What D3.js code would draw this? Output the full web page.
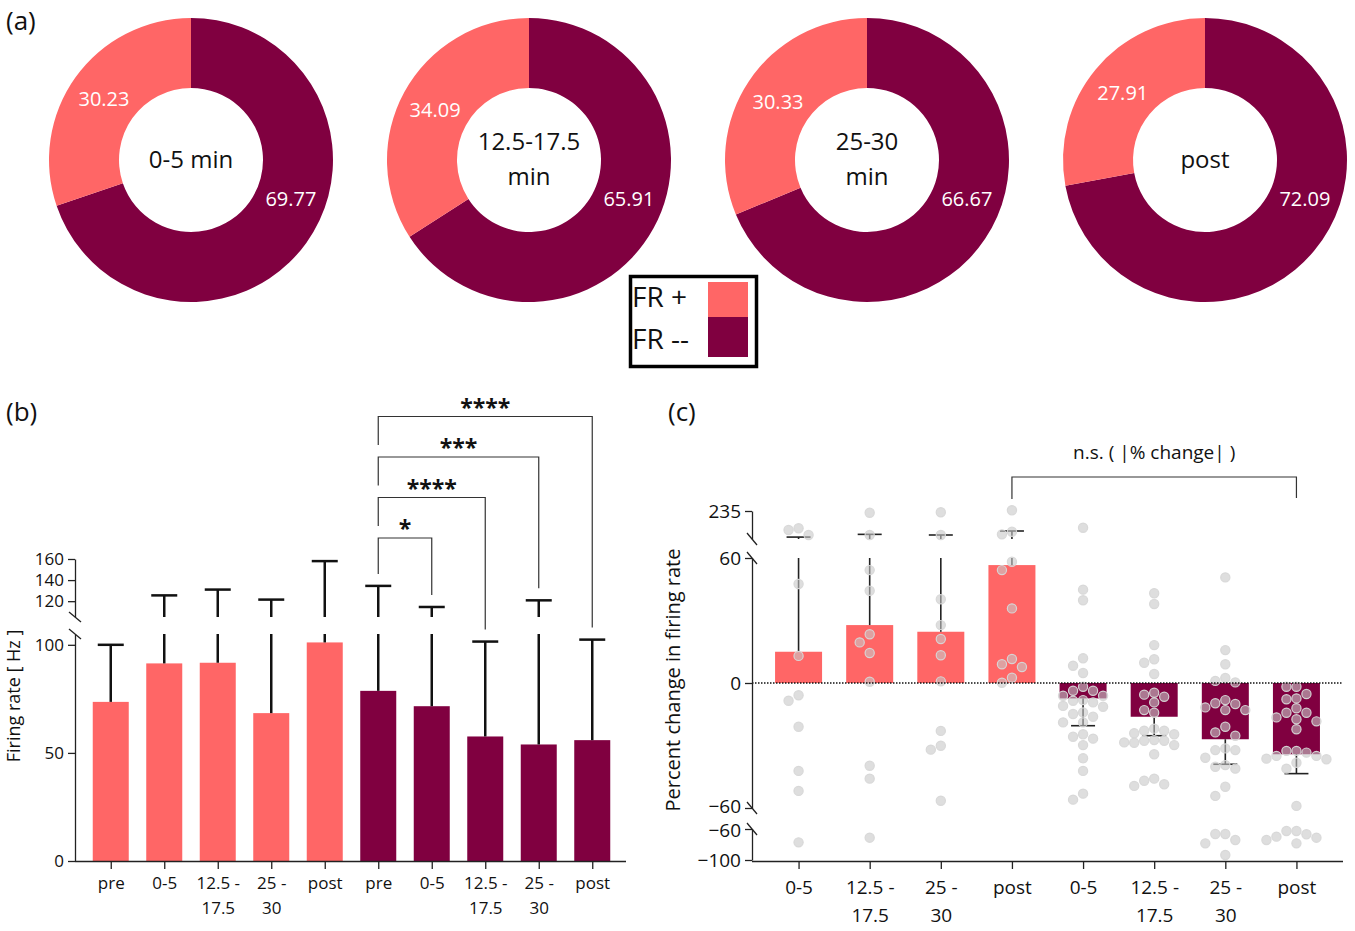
<!doctype html>
<html lang="en">
<head>
<meta charset="utf-8">
<title>Firing rate figure</title>
<script src="https://d3js.org/d3.v7.min.js"></script>
<style>
body { margin: 0; background: #fff; }
svg { font-family: "Open Sans", sans-serif; }
.axis path, .axis line { stroke: #222; stroke-width: 1.3; }
.axis text { font-family: "Open Sans", sans-serif; fill: #111; }
</style>
</head>
<body>
<svg width="1355" height="931"></svg>
<script>
var pink = '#ff6666', maroon = '#800040';

// (a) donut data
var donutTitles = [['0-5 min'], ['12.5-17.5', 'min'], ['25-30', 'min'], ['post']];
var frPlus = [30.23, 34.09, 30.33, 27.91];
var frMinus = [69.77, 65.91, 66.67, 72.09];

// (b) firing rate
var bGroups = ['pre', '0-5', '12.5 -|17.5', '25 -|30', 'post'];
var bPlusMean = [73.6, 91.4, 91.7, 68.4, 101.1];
var bPlusErr = [100, 125.5, 131, 121.5, 158];
var bMinusMean = [78.7, 71.6, 57.6, 53.9, 55.9];
var bMinusErr = [134.5, 114.5, 101.5, 120.8, 102.4];
var bSig = [[5, 6, '*'], [5, 7, '****'], [5, 8, '***'], [5, 9, '****']];

// (c) percent change
var cGroups = ['0-5', '12.5 -|17.5', '25 -|30', 'post'];
var cPlusMean = [15.0, 27.8, 24.6, 56.6];
var cPlusErr = [72, 89, 85, 110];
var cMinusMean = [-7.4, -16.2, -27.0, -34.2];
var cMinusErr = [-20.5, -25.3, -39.0, -43.5];
var cPlusDots = [
  [127, 85, 116, 47.5, 13, -8.5, -5.9, -21, -42.2, -51.8, -77.2],
  [224, 85, 54.2, 44.3, 23.4, 19.5, 14.4, 0.6, -39.7, -45.9, -71.2],
  [227, 85, 40.2, 27.8, 21.1, 13.3, 0.8, -23, -30.1, -32, -56.5],
  [240, 89, 105, 58.2, 54.2, 35.8, 11.5, 7.7, 9, 2.5, 0.1]
];
var cMinusDots = [
  [130.6, 44.8, 39.7, 11.9, 8.3, 4.8, -6.1, -3.7, -3.7, -1.8, -6.1, -8.5, -8.2, -9.3, -11.4, -11,
   -14.9, -14.1, -16.2, -18.9, -18.9, -24.6, -25.8, -26.7, -29.8, -36.1, -42.2, -53.1, -56],
  [43.1, 37.9, 18.2, 9.7, 11.4, 4.3, -4.7, -5.6, -6.6, -9.3, -14.3, -13, -22.9, -24.6, -21.9, -22.9,
   -24.1, -28.7, -27.7, -29.8, -28.5, -27.7, -27.4, -34.2, -45.9, -46.9, -48.6, -49.4],
  [50.7, 15.8, 9, 0.3, 1, 2.4, -9.7, -11.7, -13, -13, -8.2, -10.1, -21, -23.7, -25.3, -32.2, -32.2,
   -31.4, -35.9, -40.2, -41.1, -39.4, -49.8, -54.2, -66.5, -66.5, -74.2, -78.5, -93.5],
  [-5.3, -1.8, -1.8, -7.4, -7.8, -12.1, -14.3, -14.3, -17.4, -16.5, -18.4, -22.2, -32.6, -32.6, -33.4,
   -35, -36.3, -36.6, -35, -41.1, -38.3, -59, -62.6, -69.9, -78.5, -71.2, -62.6, -74.2, -66.8]
];

var svg = d3.select('svg');

function panelLabel(x, y, t) {
  svg.append('text').attr('x', x).attr('y', y).attr('font-size', 26).attr('fill', '#111').text(t);
}
panelLabel(6, 30, '(a)');
panelLabel(6, 421, '(b)');
panelLabel(668, 421, '(c)');

// ---------- (a) donuts ----------
var rIn = 72, rOut = 142;
var arc = d3.arc().innerRadius(rIn).outerRadius(rOut);
var pie = d3.pie().sort(null).value(function(d){ return d.v; });
var dx = d3.scalePoint().domain(d3.range(4)).range([191, 1205]);

frPlus.forEach(function(p, i){
  var g = svg.append('g').attr('transform', 'translate(' + dx(i) + ',160)');
  var slices = pie([{v: frMinus[i], c: maroon}, {v: p, c: pink}]);
  g.selectAll('path').data(slices).enter().append('path')
    .attr('d', arc).attr('fill', function(d){ return d.data.c; });
  // labels
  var pc = arc.centroid(slices[1]);
  g.append('text').attr('x', pc[0]).attr('y', pc[1] + 1).attr('text-anchor', 'middle')
    .attr('dominant-baseline', 'central').attr('fill', '#fff').attr('font-size', 20).text(p.toFixed(2));
  var a = 111 * Math.PI / 180, rm = (rIn + rOut) / 2;
  g.append('text').attr('x', rm * Math.sin(a)).attr('y', -rm * Math.cos(a)).attr('text-anchor', 'middle')
    .attr('dominant-baseline', 'central').attr('fill', '#fff').attr('font-size', 20).text(frMinus[i].toFixed(2));
  var lines = donutTitles[i];
  lines.forEach(function(t, k){
    g.append('text').attr('x', 0).attr('y', (k - (lines.length - 1) / 2) * 35 - 2)
      .attr('text-anchor', 'middle').attr('dominant-baseline', 'central')
      .attr('font-size', 24).attr('fill', '#111').text(t);
  });
});

// legend
var lg = svg.append('g');
lg.append('rect').attr('x', 630.5).attr('y', 276.5).attr('width', 126).attr('height', 90)
  .attr('fill', '#fff').attr('stroke', '#000').attr('stroke-width', 3.5);
lg.append('rect').attr('x', 708).attr('y', 282).attr('width', 40).attr('height', 35).attr('fill', pink);
lg.append('rect').attr('x', 708).attr('y', 317).attr('width', 40).attr('height', 40).attr('fill', maroon);
lg.append('text').attr('x', 632).attr('y', 307).attr('font-size', 28).attr('fill', '#111').text('FR +');
lg.append('text').attr('x', 632).attr('y', 349).attr('font-size', 28).attr('fill', '#111').text('FR --');

// ---------- (b) ----------
var bAxisX = 75, bBase = 861;
var bx = d3.scalePoint().domain(d3.range(10)).range([84, 619]).padding(0.5);
var byLow = d3.scaleLinear().domain([0, 105]).range([bBase, 634]);
var byHigh = d3.scaleLinear().domain([105, 160]).range([617, 559]);
function by(v){ return v > 105 ? byHigh(v) : byLow(v); }

var bBars = bPlusMean.map(function(m, i){ return {i: i, mean: m, err: bPlusErr[i], c: pink}; })
  .concat(bMinusMean.map(function(m, i){ return {i: i + 5, mean: m, err: bMinusErr[i], c: maroon}; }));
var bw = 36;

var gb = svg.append('g');
gb.selectAll('rect.bar').data(bBars).enter().append('rect')
  .attr('x', function(d){ return bx(d.i) - bw / 2; })
  .attr('y', function(d){ return by(d.mean); })
  .attr('width', bw)
  .attr('height', function(d){ return bBase - by(d.mean); })
  .attr('fill', function(d){ return d.c; });

bBars.forEach(function(d){
  var x = bx(d.i), segs;
  if (d.err > 105) segs = [[by(d.mean), byLow(105)], [byHigh(105), byHigh(d.err)]];
  else segs = [[by(d.mean), by(d.err)]];
  segs.forEach(function(s){
    gb.append('line').attr('x1', x).attr('x2', x).attr('y1', s[0]).attr('y2', s[1])
      .attr('stroke', '#111').attr('stroke-width', 2.5);
  });
  gb.append('line').attr('x1', x - 13).attr('x2', x + 13).attr('y1', by(d.err)).attr('y2', by(d.err))
    .attr('stroke', '#111').attr('stroke-width', 2.5);
});

// axes (b)
gb.append('g').attr('class', 'axis').attr('transform', 'translate(' + bAxisX + ',0)')
  .call(d3.axisLeft(byLow).tickValues([0, 50, 100]).tickSize(7).tickSizeOuter(0));
gb.append('g').attr('class', 'axis').attr('transform', 'translate(' + bAxisX + ',0)')
  .call(d3.axisLeft(byHigh).tickValues([120, 140, 160]).tickSize(7).tickSizeOuter(0));
gb.selectAll('.axis text').attr('font-size', 17).attr('dx', '-1');
[byLow(105), byHigh(105)].forEach(function(y){
  gb.append('line').attr('x1', bAxisX - 6).attr('x2', bAxisX + 6).attr('y1', y - 5).attr('y2', y + 5)
    .attr('stroke', '#222').attr('stroke-width', 1.3);
});
var axB = gb.append('g').attr('class', 'axis').attr('transform', 'translate(0,' + bBase + ')')
  .call(d3.axisBottom(bx).tickSize(8).tickSizeOuter(0).tickFormat(function(i){ return bGroups[i % 5]; }));
axB.select('.domain').attr('d', 'M' + bAxisX + ',0.5H626');
axB.selectAll('text').attr('font-size', 17).attr('y', 28).attr('dy', 0).each(function(){
  var el = d3.select(this), parts = el.text().split('|');
  el.text(null);
  parts.forEach(function(p, k){
    el.append('tspan').attr('x', 0).attr('dy', k ? 25 : 0).text(p);
  });
});
gb.append('text').attr('transform', 'translate(20,696) rotate(-90)').attr('text-anchor', 'middle')
  .attr('font-size', 18).attr('fill', '#111').text('Firing rate [ Hz ]');

// significance brackets (b)
var bTop0 = 538, bStep = 40.5;
bSig.forEach(function(s, k){
  var top = bTop0 - k * bStep;
  var xl = bx(s[0]), xr = bx(s[1]);
  var leftBottom = k === 0 ? by(bMinusErr[0]) - 12 : bTop0 - (k - 1) * bStep - 12;
  var rightBottom = by(bMinusErr[s[1] - 5]) - 12;
  gb.append('path').attr('d', 'M' + xl + ',' + leftBottom + 'V' + top + 'H' + xr + 'V' + rightBottom)
    .attr('fill', 'none').attr('stroke', '#333').attr('stroke-width', 1.2);
  gb.append('text').attr('x', (xl + xr) / 2).attr('y', top - 1).attr('text-anchor', 'middle')
    .attr('font-size', 23).attr('font-weight', 'bold').attr('fill', '#111').text(s[2]);
});

// ---------- (c) ----------
var cAxisX = 752, cBase = 861;
var cx = d3.scalePoint().domain(d3.range(8)).range([763, 1332]).padding(0.5);
var cyTop = d3.scaleLinear().domain([60, 235]).range([539, 511]);
var cyMid = d3.scaleLinear().domain([-60, 60]).range([808, 558]);
var cyBot = d3.scaleLinear().domain([-100, -60]).range([860, 829]);
function cy(v){ return v > 60 ? cyTop(v) : (v < -60 ? cyBot(v) : cyMid(v)); }

var gc = svg.append('g');
var cBars = cPlusMean.map(function(m, i){ return {i: i, mean: m, err: cPlusErr[i], c: pink, dots: cPlusDots[i]}; })
  .concat(cMinusMean.map(function(m, i){ return {i: i + 4, mean: m, err: cMinusErr[i], c: maroon, dots: cMinusDots[i]}; }));
var cw = 47;

gc.selectAll('rect.bar').data(cBars).enter().append('rect')
  .attr('x', function(d){ return cx(d.i) - cw / 2; })
  .attr('y', function(d){ return Math.min(cy(d.mean), cy(0)); })
  .attr('width', cw)
  .attr('height', function(d){ return Math.abs(cy(d.mean) - cy(0)); })
  .attr('fill', function(d){ return d.c; });

// beeswarm layout of the points
function swarm(vals, x0, d){
  var pts = vals.map(function(v){ return {v: v, y: cy(v)}; });
  var order = pts.slice().sort(function(a, b){ return a.y - b.y; });
  var placed = [];
  order.forEach(function(p){
    for (var k = 0; k < 30; k++) {
      var off = k === 0 ? 0 : (k % 2 ? -Math.ceil(k / 2) : Math.ceil(k / 2)) * d;
      var ok = placed.every(function(q){ return Math.hypot(q.x - (x0 + off), q.y - p.y) >= d - 0.5; });
      if (ok) { p.x = x0 + off; placed.push(p); break; }
    }
  });
  return pts;
}

cBars.forEach(function(d){
  var x = cx(d.i), segs = [];
  if (d.err > 60) segs = [[cy(d.mean), cyMid(60)], [cyTop(60), cyTop(d.err)]];
  else if (d.err < -60) segs = [[cy(d.mean), cyMid(-60)], [cyBot(-60), cyBot(d.err)]];
  else segs = [[cy(d.mean), cy(d.err)]];
  segs.forEach(function(s){
    gc.append('line').attr('x1', x).attr('x2', x).attr('y1', s[0]).attr('y2', s[1])
      .attr('stroke', '#222').attr('stroke-width', 1.6);
  });
  gc.append('line').attr('x1', x - 12).attr('x2', x + 12).attr('y1', cy(d.err)).attr('y2', cy(d.err))
    .attr('stroke', '#222').attr('stroke-width', 1.6);
});

cBars.forEach(function(d){
  gc.selectAll(null).data(swarm(d.dots, cx(d.i), 10)).enter().append('circle')
    .attr('cx', function(p){ return p.x; }).attr('cy', function(p){ return p.y; }).attr('r', 4.6)
    .attr('fill', 'rgba(200,200,200,0.6)').attr('stroke', 'rgba(215,215,215,0.95)').attr('stroke-width', 1.2);
});

// zero line
gc.append('line').attr('x1', cAxisX).attr('x2', 1343).attr('y1', cy(0)).attr('y2', cy(0))
  .attr('stroke', '#111').attr('stroke-width', 1.6).attr('stroke-dasharray', '1.5,1.5');

// axes (c)
[[cyTop, [235]], [cyMid, [60, 0, -60]], [cyBot, [-60, -100]]].forEach(function(a, k){
  gc.append('g').attr('class', 'axis cy seg' + k).attr('transform', 'translate(' + cAxisX + ',0)')
    .call(d3.axisLeft(a[0]).tickValues(a[1]).tickSize(7).tickSizeOuter(0).tickFormat(d3.format('d')));
});
gc.selectAll('.cy text').attr('font-size', 19).attr('dx', '-1');
gc.selectAll('.seg1 .tick:last-of-type text').attr('dy', '0.22em');
gc.selectAll('.seg2 .tick:first-of-type text').attr('dy', '0.42em');
[cyTop(60), cyMid(60), cyMid(-60), cyBot(-60)].forEach(function(y){
  gc.append('line').attr('x1', cAxisX - 5).attr('x2', cAxisX + 5).attr('y1', y - 6).attr('y2', y + 6)
    .attr('stroke', '#222').attr('stroke-width', 1.3);
});
var axC = gc.append('g').attr('class', 'axis').attr('transform', 'translate(0,' + cBase + ')')
  .call(d3.axisBottom(cx).tickSize(8).tickSizeOuter(0).tickFormat(function(i){ return cGroups[i % 4]; }));
axC.select('.domain').attr('d', 'M' + cAxisX + ',0.5H1343');
axC.selectAll('text').attr('font-size', 19).attr('y', 33).attr('dy', 0).each(function(){
  var el = d3.select(this), parts = el.text().split('|');
  el.text(null);
  parts.forEach(function(p, k){
    el.append('tspan').attr('x', 0).attr('dy', k ? 28 : 0).text(p);
  });
});
gc.append('text').attr('transform', 'translate(680,680) rotate(-90)').attr('text-anchor', 'middle')
  .attr('font-size', 20).attr('fill', '#111').text('Percent change in firing rate');

// n.s. bracket
var nsL = cx(3), nsR = cx(7);
gc.append('path').attr('d', 'M' + nsL + ',499V477H' + nsR + 'V498')
  .attr('fill', 'none').attr('stroke', '#333').attr('stroke-width', 1.2);
gc.append('text').attr('x', (nsL + nsR) / 2).attr('y', 459).attr('text-anchor', 'middle')
  .attr('font-size', 19).attr('fill', '#111').text('n.s. ( |% change| )');
</script>
</body>
</html>
